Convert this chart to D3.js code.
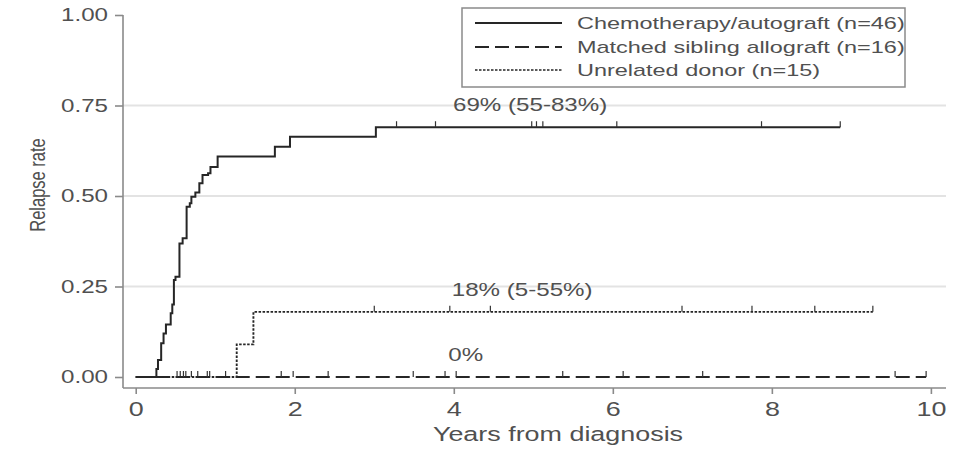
<!DOCTYPE html>
<html>
<head>
<meta charset="utf-8">
<script src="https://cdn.jsdelivr.net/npm/d3@7"></script>
<style>
  body { margin: 0; background: #fff; }
  svg { display: block; }
  text { font-family: "Liberation Sans", Arial, sans-serif; fill: #505050; }
</style>
</head>
<body>
<svg id="chart" width="973" height="449"></svg>
<script>
// Cumulative relapse (Kaplan–Meier style step curves)
const seriesNames = [
  "Chemotherapy/autograft (n=46)",
  "Matched sibling allograft (n=16)",
  "Unrelated donor (n=15)"
];

// Chemotherapy/autograft: event times (years) and cumulative rate after each step
const chemoTimes = [0, 0.26, 0.28, 0.32, 0.35, 0.38, 0.44, 0.46, 0.48, 0.50, 0.55, 0.59, 0.64, 0.68, 0.70, 0.75, 0.80, 0.84, 0.91, 0.94, 1.03, 1.75, 1.94, 3.02];
const chemoRates = [0, 0.022, 0.047, 0.093, 0.120, 0.145, 0.176, 0.200, 0.268, 0.277, 0.369, 0.383, 0.470, 0.480, 0.498, 0.510, 0.535, 0.558, 0.563, 0.580, 0.609, 0.636, 0.664, 0.69];
const chemoEnd = 8.86;
const chemoCensor = [3.28, 3.77, 4.98, 5.04, 5.12, 6.05, 7.87, 8.86];

// Matched sibling allograft: no relapses
const siblingTimes = [0];
const siblingRates = [0];
const siblingEnd = 9.94;
const siblingCensor = [0.56, 0.63, 0.78, 0.93, 1.13, 1.83, 1.98, 2.42, 3.49, 3.89, 4.03, 5.37, 6.13, 7.13, 9.55, 9.94];

// Unrelated donor
const unrelatedTimes = [0, 1.27, 1.48];
const unrelatedRates = [0, 0.09, 0.18];
const unrelatedEnd = 9.27;
const unrelatedCensor = [0.52, 0.60, 0.70, 0.90, 3.00, 3.95, 4.46, 6.87, 7.75, 8.54, 9.27];

// Estimates printed next to each curve
const annoLabels = ["69% (55-83%)", "0%", "18% (5-55%)"];
const annoTimes = [4.96, 4.15, 4.86];
const annoRates = [0.69, 0, 0.18];

const xTicks = [0, 2, 4, 6, 8, 10];
const yTicks = [0, 0.25, 0.5, 0.75, 1];
const yTickLabels = ["0.00", "0.25", "0.50", "0.75", "1.00"];

// ---- layout ----
const svg = d3.select("#chart");
const SX = 1.38; // horizontal text stretch
const ink = "#262626";

const x = d3.scaleLinear().domain([-0.16, 10.19]).range([123, 946]);
const y = d3.scaleLinear().domain([0, 1]).range([377, 15]);
const axisY0 = 388;

// grid lines
svg.append("g").selectAll("line")
  .data(yTicks.filter(v => v > 0 && v < 1))
  .join("line")
  .attr("x1", x.range()[0]).attr("x2", x.range()[1])
  .attr("y1", d => y(d)).attr("y2", d => y(d))
  .attr("stroke", "#e3e3e3").attr("stroke-width", 2);

// y axis
const yAxis = svg.append("g")
  .attr("transform", `translate(${x.range()[0]},0)`)
  .call(d3.axisLeft(y).tickValues(yTicks).tickFormat((d, i) => yTickLabels[i]).tickSize(8).tickPadding(7));
yAxis.select(".domain").remove();
yAxis.append("line").attr("x1", 0).attr("x2", 0).attr("y1", y(1)).attr("y2", axisY0)
  .attr("stroke", "#8a8a8a").attr("stroke-width", 1.6);
yAxis.selectAll(".tick line").attr("stroke", "#8a8a8a").attr("stroke-width", 1.6);
yAxis.selectAll(".tick text")
  .attr("font-size", 17.5).attr("fill", "#505050")
  .each(function () {
    const t = d3.select(this);
    const xx = +t.attr("x");
    t.attr("x", 0).attr("transform", `translate(${xx},0) scale(${SX},1)`);
  });

// x axis
const xAxis = svg.append("g")
  .attr("transform", `translate(0,${axisY0})`)
  .call(d3.axisBottom(x).tickValues(xTicks).tickFormat(d3.format("d")).tickSize(6).tickPadding(8));
xAxis.select(".domain").remove();
xAxis.append("line").attr("x1", x.range()[0]).attr("x2", x.range()[1]).attr("y1", 0).attr("y2", 0)
  .attr("stroke", "#8a8a8a").attr("stroke-width", 1.6);
xAxis.selectAll(".tick line").attr("stroke", "#8a8a8a").attr("stroke-width", 1.6);
xAxis.selectAll(".tick text")
  .attr("font-size", 19.5).attr("fill", "#505050")
  .each(function () {
    const t = d3.select(this);
    const yy = +t.attr("y");
    t.attr("y", 0).attr("transform", `translate(0,${yy}) scale(${SX},1)`);
  });

// axis titles
svg.append("text")
  .attr("transform", `translate(558,441) scale(${SX},1)`)
  .attr("text-anchor", "middle").attr("font-size", 19.5)
  .text("Years from diagnosis");
svg.append("text")
  .attr("transform", `translate(37,185) rotate(-90) scale(1,${SX})`)
  .attr("text-anchor", "middle").attr("dy", "0.35em").attr("font-size", 16.5)
  .text("Relapse rate");

// ---- curves ----
function stepPoints(times, rates, end) {
  const pts = times.map((t, i) => [t, rates[i]]);
  pts.push([end, rates[rates.length - 1]]);
  return pts;
}
function rateAt(times, rates, t) {
  let v = rates[0];
  for (let i = 0; i < times.length; i++) if (times[i] <= t) v = rates[i];
  return v;
}
const line = d3.line().x(d => x(d[0])).y(d => y(d[1])).curve(d3.curveStepAfter);

const series = [
  { times: siblingTimes, rates: siblingRates, end: siblingEnd, censor: siblingCensor, dash: "14,6", width: 1.9 },
  { times: unrelatedTimes, rates: unrelatedRates, end: unrelatedEnd, censor: unrelatedCensor, dash: "2.5,1.5", width: 1.9 },
  { times: chemoTimes, rates: chemoRates, end: chemoEnd, censor: chemoCensor, dash: null, width: 2 }
];

series.forEach(s => {
  svg.append("path")
    .datum(stepPoints(s.times, s.rates, s.end))
    .attr("d", line)
    .attr("fill", "none")
    .attr("stroke", ink)
    .attr("stroke-width", s.width)
    .attr("stroke-dasharray", s.dash);
  svg.append("g").selectAll("line")
    .data(s.censor)
    .join("line")
    .attr("x1", d => x(d)).attr("x2", d => x(d))
    .attr("y1", d => y(rateAt(s.times, s.rates, d)))
    .attr("y2", d => y(rateAt(s.times, s.rates, d)) - 6)
    .attr("stroke", "#333").attr("stroke-width", 1.2);
});

// ---- estimates ----
svg.append("g").selectAll("text")
  .data(annoLabels)
  .join("text")
  .attr("transform", (d, i) => `translate(${x(annoTimes[i])},${y(annoRates[i]) - 16}) scale(${SX},1)`)
  .attr("text-anchor", "middle").attr("font-size", 17.5)
  .text(d => d);

// ---- legend ----
const legend = svg.append("g");
legend.append("rect")
  .attr("x", 462).attr("y", 8).attr("width", 443).attr("height", 79)
  .attr("fill", "#fff").attr("stroke", "#8a8a8a").attr("stroke-width", 1.5);
const legendStyles = [
  { dash: null, width: 2 },
  { dash: "14,6", width: 1.9 },
  { dash: "2.5,1.5", width: 1.4 }
];
const rowY = [23, 47, 70];
seriesNames.forEach((name, i) => {
  legend.append("line")
    .attr("x1", 475).attr("x2", 562).attr("y1", rowY[i]).attr("y2", rowY[i])
    .attr("stroke", ink).attr("stroke-width", legendStyles[i].width)
    .attr("stroke-dasharray", legendStyles[i].dash);
  legend.append("text")
    .attr("transform", `translate(577,${rowY[i]}) scale(${SX},1)`)
    .attr("dy", "0.35em").attr("font-size", 17)
    .text(name);
});
</script>
</body>
</html>
